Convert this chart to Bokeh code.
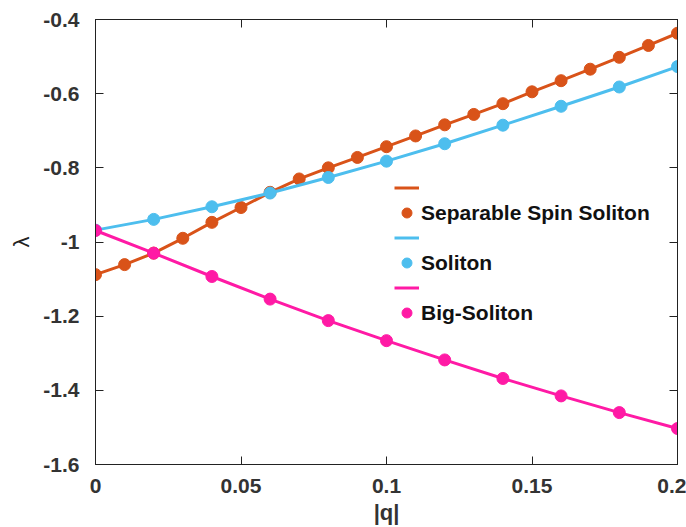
from bokeh.plotting import figure
from bokeh.models import LinearAxis, FixedTicker, Legend, LegendItem, Range1d
from bokeh.embed import file_html
from bokeh.resources import INLINE

# ---- data ----
q_sep = [0.0, 0.01, 0.02, 0.03, 0.04, 0.05, 0.06, 0.07, 0.08, 0.09, 0.10,
         0.11, 0.12, 0.13, 0.14, 0.15, 0.16, 0.17, 0.18, 0.19, 0.20]
lam_sep = [-1.088, -1.061, -1.030, -0.990, -0.947, -0.907, -0.866, -0.830, -0.800,
           -0.772, -0.743, -0.714, -0.684, -0.656, -0.627, -0.595, -0.565, -0.534,
           -0.502, -0.470, -0.437]
q_sol = [0.0, 0.02, 0.04, 0.06, 0.08, 0.10, 0.12, 0.14, 0.16, 0.18, 0.20]
lam_sol = [-0.968, -0.939, -0.905, -0.868, -0.826, -0.782, -0.735, -0.685, -0.634, -0.582, -0.527]
q_big = [0.0, 0.02, 0.04, 0.06, 0.08, 0.10, 0.12, 0.14, 0.16, 0.18, 0.20]
lam_big = [-0.969, -1.030, -1.093, -1.154, -1.212, -1.266, -1.318, -1.368, -1.415, -1.460, -1.503]

x_ticks = [0.0, 0.05, 0.1, 0.15, 0.2]
x_tick_labels = ["0", "0.05", "0.1", "0.15", "0.2"]
y_ticks = [-1.6, -1.4, -1.2, -1.0, -0.8, -0.6, -0.4]
y_tick_labels = ["-1.6", "-1.4", "-1.2", "-1", "-0.8", "-0.6", "-0.4"]

series_names = ["Separable Spin Soliton", "Soliton", "Big-Soliton"]
colors = ["#D95319", "#4DBEEE", "#FF1AA5"]

FONT = "Liberation Sans"
AX = "#222222"

p = figure(width=686, height=527, x_range=Range1d(0, 0.2), y_range=Range1d(-1.6, -0.4),
           output_backend="svg", toolbar_location=None,
           min_border_left=95, min_border_right=9, min_border_top=19, min_border_bottom=63)
p.grid.visible = False
p.outline_line_color = AX
p.outline_line_width = 1

def style_axis(ax, ticks, labels, show_labels=True):
    ax.ticker = FixedTicker(ticks=ticks)
    ax.major_tick_in = 8
    ax.major_tick_out = 0
    ax.minor_tick_in = 0
    ax.minor_tick_out = 0
    ax.axis_line_color = AX
    ax.major_tick_line_color = AX
    if show_labels:
        ax.major_label_overrides = {t: l for t, l in zip(ticks, labels)}
        ax.major_label_text_font = FONT
        ax.major_label_text_font_style = "bold"
        ax.major_label_text_font_size = "21px"
        ax.major_label_text_color = "#333333"
    else:
        ax.major_label_text_color = None
        ax.major_label_standoff = 0

style_axis(p.xaxis[0], x_ticks, x_tick_labels)
style_axis(p.yaxis[0], y_ticks, y_tick_labels)
p.xaxis.major_label_standoff = 14
p.yaxis.major_label_standoff = 16
p.xaxis.axis_label = "|q|"
p.xaxis.axis_label_text_font = FONT
p.xaxis.axis_label_text_font_style = "bold"
p.xaxis.axis_label_text_font_size = "22px"
p.xaxis.axis_label_text_color = "#333333"
p.xaxis.axis_label_standoff = 4
p.yaxis.axis_label = "λ"
p.yaxis.axis_label_text_font = FONT
p.yaxis.axis_label_text_font_style = "normal"
p.yaxis.axis_label_text_font_size = "22px"
p.yaxis.axis_label_text_color = "#222222"
p.yaxis.axis_label_standoff = 6

top = LinearAxis()
right = LinearAxis()
style_axis(top, x_ticks, x_tick_labels, show_labels=False)
style_axis(right, y_ticks, y_tick_labels, show_labels=False)
p.add_layout(top, "above")
p.add_layout(right, "right")

items = []
for xs, ys, name, c in zip([q_sep, q_sol, q_big], [lam_sep, lam_sol, lam_big], series_names, colors):
    ln = p.line(xs, ys, line_color=c, line_width=3)
    sc = p.scatter(xs, ys, marker="circle", size=12, fill_color=c, line_color=c)
    items.append(LegendItem(label=" ", renderers=[ln]))
    items.append(LegendItem(label=name, renderers=[sc]))

legend = Legend(items=items, location=(299, 139))
legend.border_line_color = None
legend.background_fill_alpha = 0
legend.padding = 0
legend.margin = 0
legend.spacing = 0
legend.glyph_width = 25
legend.glyph_height = 25
legend.label_height = 25
legend.label_standoff = 2
legend.label_text_font = FONT
legend.label_text_font_style = "bold"
legend.label_text_font_size = "21px"
legend.label_text_color = "#111111"
p.add_layout(legend)

open("out.html", "w").write(file_html(p, INLINE))
